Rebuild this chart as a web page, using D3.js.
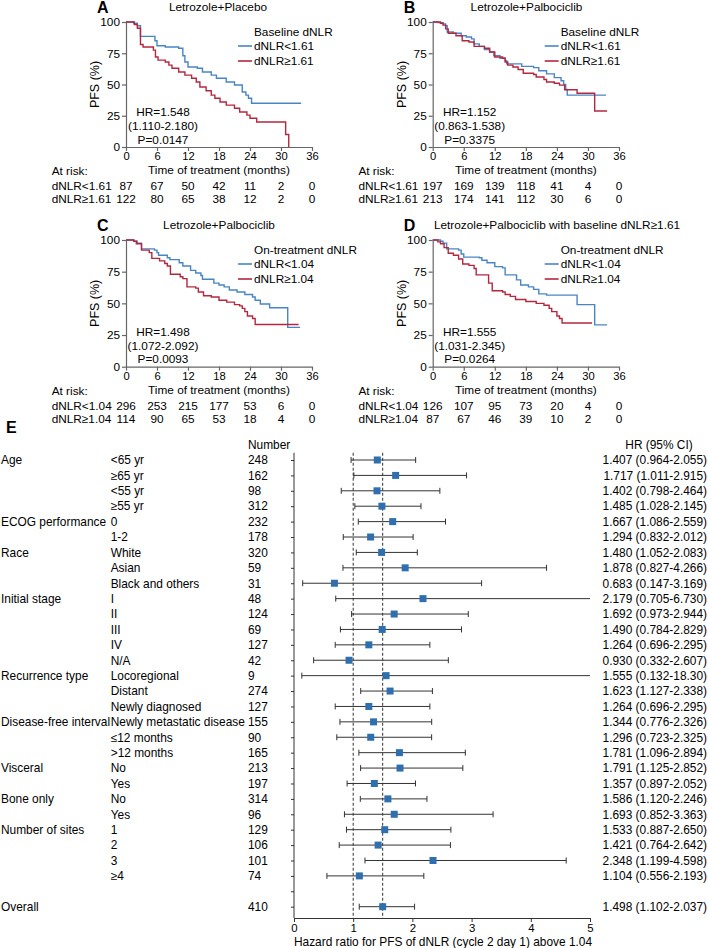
<!DOCTYPE html>
<html>
<head>
<meta charset="utf-8">
<script src="https://cdn.jsdelivr.net/npm/d3@7"></script>
<style>
  body { margin: 0; background: #fff; }
  svg { display: block; font-family: Arial, "Liberation Sans", sans-serif; }
</style>
</head>
<body>
<svg id="chart" width="708" height="948"></svg>
<script>
// ---------------- DATA ----------------
const timeTicks = [0, 6, 12, 18, 24, 30, 36];
const pfsTicks = [0, 25, 50, 75, 100];

// KM step curves: [time (months), PFS (%)]
const kmA_low = [[0,100],[1.5,99],[2.2,97],[2.8,88.5],[5.6,85],[6,81],[7.6,80],[10.2,79],[11,73],[11.4,68],[12,64],[13.8,63],[14.8,60],[16.5,57.5],[17.5,55],[19.4,52],[21,49.6],[22.5,44],[23.2,41.5],[23.7,39],[24.3,35],[33.9,35]];
const kmA_high = [[0,100],[1.6,98],[2.2,95],[2.8,82],[3.3,80],[5.3,77.5],[5.7,72],[6.2,69.5],[7.6,68],[8.3,65.5],[8.9,63],[10.2,60],[11.4,57.5],[12.7,55],[13.6,52],[14.3,48],[15.5,45],[16.5,41.5],[17.2,39],[18.2,36],[19.4,33.5],[21,31],[22,28],[23.4,25.5],[24,23],[25.3,20],[30.9,10],[31.5,0]];
const kmB_low = [[0,100],[1,99.5],[2,98.5],[2.5,97],[2.8,92],[4,91],[5.5,89],[6.5,88],[7.5,86.5],[8,82.5],[9,80.5],[10,78],[11,76],[11.8,73],[13,71],[14,69],[14.3,66.5],[17.2,64.5],[19.5,63.5],[20.5,61],[22,58.5],[23.5,55.5],[24.8,53],[25.3,50],[25.7,46],[26,41.5],[33.5,41.5]];
const kmB_high = [[0,100],[1.5,99],[2,97.5],[2.5,94.5],[3,91],[4.5,89],[5.7,85],[7,84],[8,80.5],[10,79],[11,76],[12,72],[13.5,71],[14,68],[14.5,65.5],[15.5,64],[16.5,62],[17.5,59],[19.5,58],[20,56],[21.5,54],[22,52],[23.5,51],[24.5,49.5],[25.5,45.8],[27.9,43],[31.3,28.8],[33.7,28.8]];
const kmC_low = [[0,100],[1.5,99],[2.2,97.5],[3,93],[5.5,92],[6,90],[6.3,88],[8,86],[8.5,84.5],[10.3,82],[11,79.5],[12.5,76],[13.5,74],[14.5,72],[14.8,69],[17,66],[18,64.5],[19,63],[20,60.5],[21.5,59],[23,57],[24.5,55],[25,52.5],[26,49.5],[27.8,46.5],[31.3,31],[33.7,31]];
const kmC_high = [[0,100],[1.5,99],[2,97],[3,92],[4.5,90],[5,85.5],[6.5,83.5],[7.5,81.5],[8,79.5],[8.6,73],[10.5,71],[11,69.5],[11.8,63],[13.5,62],[14,59],[15,56],[16.5,55],[18,52.5],[19.5,51],[21,49],[22,48],[22.5,46],[23,43.5],[23.5,40],[24.5,38],[25,33.3],[33.4,33.3]];
const kmD_low = [[0,100],[1.5,99],[2,97.5],[2.7,93],[5,92],[5.5,89],[6,86.5],[9,86],[9.5,84],[10.5,82],[12,79],[13.5,78],[14,72.5],[16.2,68.5],[17,64.5],[18.5,63],[19.5,61],[20.5,57.5],[22,56.5],[27.9,49],[31.3,33],[33.7,33]];
const kmD_high = [[0,100],[1,98.5],[1.5,97],[2.2,94],[3,89.5],[4,88],[5,85],[5.8,81],[7,80],[8,77.5],[8.4,72.5],[10.8,66],[11.5,60],[13.5,59],[14,57],[15,55.5],[16,53],[18,51.5],[20,50],[21.5,48.5],[22.5,46],[23,43.5],[24,40],[24.5,38],[25,34.5],[30.8,34.5]];

const atRiskA = [[87,67,50,42,11,2,0],[122,80,65,38,12,2,0]];
const atRiskB = [[197,169,139,118,41,4,0],[213,174,141,112,30,6,0]];
const atRiskC = [[296,253,215,177,53,6,0],[114,90,65,53,18,4,0]];
const atRiskD = [[126,107,95,73,20,4,0],[87,67,46,39,10,2,0]];

// Forest plot
const fpGroups = ["Age","","","","ECOG performance","","Race","","","Initial stage","","","","","Recurrence type","","","Disease-free interval","","","Visceral","","Bone only","","Number of sites","","","","","Overall"];
const fpSubgroups = ["<65 yr","≥65 yr","<55 yr","≥55 yr","0","1-2","White","Asian","Black and others","I","II","III","IV","N/A","Locoregional","Distant","Newly diagnosed","Newly metastatic disease","≤12 months",">12 months","No","Yes","No","Yes","1","2","3","≥4","",""];
const fpNumber = [248,162,98,312,232,178,320,59,31,48,124,69,127,42,9,274,127,155,90,165,213,197,314,96,129,106,101,74,null,410];
const fpHR = [1.407,1.717,1.402,1.485,1.667,1.294,1.480,1.878,0.683,2.179,1.692,1.490,1.264,0.930,1.555,1.623,1.264,1.344,1.296,1.781,1.791,1.357,1.586,1.693,1.533,1.421,2.348,1.104,null,1.498];
const fpLow = [0.964,1.011,0.798,1.028,1.086,0.832,1.052,0.827,0.147,0.705,0.973,0.784,0.696,0.332,0.132,1.127,0.696,0.776,0.723,1.096,1.125,0.897,1.120,0.852,0.887,0.764,1.199,0.556,null,1.102];
const fpHigh = [2.055,2.915,2.464,2.145,2.559,2.012,2.083,4.266,3.169,6.730,2.944,2.829,2.295,2.607,18.30,2.338,2.295,2.326,2.325,2.894,2.852,2.052,2.246,3.363,2.650,2.642,4.598,2.193,null,2.037];
const hrTicks = [0,1,2,3,4,5];

// ---------------- STYLE ----------------
const BLUE = "#4a85c3", RED = "#b3283f", SQ = "#2f6fae", AX = "#666", TXT = "#000";
const FS = 11.8;
const FONT = "Arial, 'Liberation Sans', sans-serif";
const svg = d3.select("#chart");
svg.append("rect").attr("width",708).attr("height",948).attr("fill","#fff");

function drawKM(cfg) {
  const g = svg.append("g");
  const x = d3.scaleLinear().domain([0,36]).range([cfg.x0, cfg.x1]);
  const y = d3.scaleLinear().domain([0,100]).range([cfg.yb, cfg.yt]);

  const ya = g.append("g").attr("transform",`translate(${cfg.x0},0)`)
    .call(d3.axisLeft(y).tickValues(pfsTicks).tickSize(4).tickSizeOuter(0).tickPadding(2).tickFormat(d3.format("d")));
  const xa = g.append("g").attr("transform",`translate(0,${cfg.yb})`)
    .call(d3.axisBottom(x).tickValues(timeTicks).tickSize(4).tickSizeOuter(0).tickPadding(1).tickFormat(d3.format("d")));
  [ya, xa].forEach(a => {
    a.selectAll("path,line").attr("stroke", AX).attr("stroke-width", 1.2);
    a.selectAll("text").attr("font-size", FS).attr("fill",TXT).attr("font-family",FONT);
  });
  xa.selectAll("text").attr("font-size", 11.2);

  g.append("text").attr("transform",`translate(${cfg.x0-27},${(cfg.yt+cfg.yb)/2}) rotate(-90)`)
    .attr("text-anchor","middle").attr("font-size",12.5).attr("fill",TXT).text("PFS (%)");
  g.append("text").attr("x",(cfg.x0+cfg.x1)/2).attr("y",cfg.yb+26.8).attr("text-anchor","middle")
    .attr("font-size",FS).attr("fill",TXT).text("Time of treatment (months)");

  const line = d3.line().x(d=>x(d[0])).y(d=>y(d[1])).curve(d3.curveStepAfter);
  cfg.series.forEach((s,i) => {
    g.append("path").attr("d", line(s)).attr("fill","none")
      .attr("stroke", i===0?BLUE:RED).attr("stroke-width",1.4);
  });

  g.append("text").attr("x",cfg.titleX).attr("y",cfg.yt-11).attr("text-anchor","middle")
    .attr("font-size",FS).attr("fill",TXT).text(cfg.title);
  g.append("text").attr("x",cfg.x0-29).attr("y",cfg.yt-9.5).attr("font-size",16).attr("font-weight","bold")
    .attr("fill","#000").text(cfg.letter);

  const lx = cfg.x0+128;
  g.append("text").attr("x",lx).attr("y",cfg.yt+14).attr("font-size",FS).attr("fill",TXT).text(cfg.legendTitle);
  cfg.legend.forEach((t,i) => {
    const ly = cfg.yt+24+i*15;
    g.append("line").attr("x1",cfg.x0+112).attr("x2",cfg.x0+126).attr("y1",ly).attr("y2",ly)
      .attr("stroke", i===0?BLUE:RED).attr("stroke-width",1.6);
    g.append("text").attr("x",lx).attr("y",ly+4.2).attr("font-size",FS).attr("fill",TXT).text(t);
  });

  cfg.hr.forEach((t,i) => {
    g.append("text").attr("x",cfg.x0+37).attr("y",cfg.yb-31+i*13.8).attr("text-anchor","middle")
      .attr("font-size",FS).attr("fill",TXT).text(t);
  });

  const rx = cfg.x0-74.3;
  g.append("text").attr("x",rx).attr("y",cfg.yb+28).attr("font-size",FS).attr("fill",TXT).text("At risk:");
  cfg.atRisk.forEach((row,i) => {
    const by = cfg.yb+43+i*13.3;
    g.append("text").attr("x",rx).attr("y",by).attr("font-size",FS).attr("fill",TXT).text(cfg.legend[i]);
    row.forEach((v,j) => {
      g.append("text").attr("x",x(timeTicks[j])).attr("y",by).attr("text-anchor","middle")
        .attr("font-size",FS).attr("fill",TXT).text(v);
    });
  });
}

const L = [126, 312], R = [432.7, 619];
drawKM({x0:L[0],x1:L[1],yt:22,yb:147,letter:"A",title:"Letrozole+Placebo",titleX:218,
  legendTitle:"Baseline dNLR",legend:["dNLR<1.61","dNLR≥1.61"],series:[kmA_low,kmA_high],
  hr:["HR=1.548","(1.110-2.180)","P=0.0147"],atRisk:atRiskA});
drawKM({x0:R[0],x1:R[1],yt:22,yb:147,letter:"B",title:"Letrozole+Palbociclib",titleX:526.5,
  legendTitle:"Baseline dNLR",legend:["dNLR<1.61","dNLR≥1.61"],series:[kmB_low,kmB_high],
  hr:["HR=1.152","(0.863-1.538)","P=0.3375"],atRisk:atRiskB});
drawKM({x0:L[0],x1:L[1],yt:240,yb:366.7,letter:"C",title:"Letrozole+Palbociclib",titleX:219,
  legendTitle:"On-treatment dNLR",legend:["dNLR<1.04","dNLR≥1.04"],series:[kmC_low,kmC_high],
  hr:["HR=1.498","(1.072-2.092)","P=0.0093"],atRisk:atRiskC});
drawKM({x0:R[0],x1:R[1],yt:240,yb:366.7,letter:"D",title:"Letrozole+Palbociclib with baseline dNLR≥1.61",titleX:557,
  legendTitle:"On-treatment dNLR",legend:["dNLR<1.04","dNLR≥1.04"],series:[kmD_low,kmD_high],
  hr:["HR=1.555","(1.031-2.345)","P=0.0264"],atRisk:atRiskD});

// ---------------- FOREST ----------------
const FF = 11.9;
const fg = svg.append("g");
fg.append("text").attr("x",6).attr("y",433).attr("font-size",16).attr("font-weight","bold").text("E");

const yRow = d3.scaleLinear().domain([0,29]).range([460,906.7]);
const xHR = d3.scaleLinear().domain([0,5]).range([294,590]);
const axisY = 918, topY = yRow(-0.47);

fg.append("text").attr("x",248).attr("y",449).attr("font-size",FF).attr("fill",TXT).text("Number");
fg.append("text").attr("x",659).attr("y",449).attr("text-anchor","middle").attr("font-size",FF).attr("fill",TXT).text("HR (95% CI)");

fg.append("line").attr("x1",xHR(0)).attr("x2",xHR(0)).attr("y1",topY).attr("y2",axisY).attr("stroke","#333");
const yAx = fg.append("g").attr("transform",`translate(${xHR(0)},0)`)
  .call(d3.axisLeft(yRow).tickValues(d3.range(30)).tickSize(3).tickFormat(""));
yAx.select(".domain").remove();
yAx.selectAll("line").attr("stroke","#333");

const xAx = fg.append("g").attr("transform",`translate(0,${axisY})`)
  .call(d3.axisBottom(xHR).tickValues(hrTicks).tickSize(4).tickSizeOuter(0).tickPadding(1.5).tickFormat(d3.format("d")));
xAx.selectAll("path,line").attr("stroke","#333");
xAx.selectAll("text").attr("font-size",11.4).attr("fill",TXT).attr("font-family",FONT);
fg.append("text").attr("x",443).attr("y",946).attr("text-anchor","middle").attr("font-size",FF).attr("fill",TXT)
  .text("Hazard ratio for PFS of dNLR (cycle 2 day 1) above 1.04");

[1, fpHR[29]].forEach(v => {
  fg.append("line").attr("x1",xHR(v)).attr("x2",xHR(v)).attr("y1",topY).attr("y2",axisY)
    .attr("stroke","#333").attr("stroke-dasharray","3,2").attr("stroke-width",1);
});

const fmt = v => v >= 10 ? v.toFixed(2) : v.toFixed(3);
fpHR.forEach((hr,i) => {
  const cy = yRow(i);
  if (fpGroups[i]) fg.append("text").attr("x",1).attr("y",cy).attr("dy","0.36em").attr("font-size",FF).attr("fill",TXT).text(fpGroups[i]);
  if (fpSubgroups[i]) fg.append("text").attr("x",110.7).attr("y",cy).attr("dy","0.36em").attr("font-size",FF).attr("fill",TXT).text(fpSubgroups[i]);
  if (fpNumber[i] != null) fg.append("text").attr("x",248).attr("y",cy).attr("dy","0.36em").attr("font-size",FF).attr("fill",TXT).text(fpNumber[i]);
  if (hr == null) return;
  const lo = fpLow[i], hi = Math.min(fpHigh[i], 5);
  fg.append("line").attr("x1",xHR(lo)).attr("x2",xHR(hi)).attr("y1",cy).attr("y2",cy).attr("stroke","#333").attr("stroke-width",1);
  fg.append("line").attr("x1",xHR(lo)).attr("x2",xHR(lo)).attr("y1",cy-3).attr("y2",cy+3).attr("stroke","#333");
  if (fpHigh[i] <= 5) fg.append("line").attr("x1",xHR(hi)).attr("x2",xHR(hi)).attr("y1",cy-3).attr("y2",cy+3).attr("stroke","#333");
  fg.append("rect").attr("x",xHR(hr)-3.5).attr("y",cy-3.5).attr("width",7).attr("height",7).attr("fill",SQ);
  fg.append("text").attr("x",707).attr("y",cy).attr("dy","0.36em").attr("text-anchor","end").attr("font-size",FF).attr("fill",TXT)
    .text(`${fmt(hr)} (${fmt(fpLow[i])}-${fmt(fpHigh[i])})`);
});
</script>
</body>
</html>
